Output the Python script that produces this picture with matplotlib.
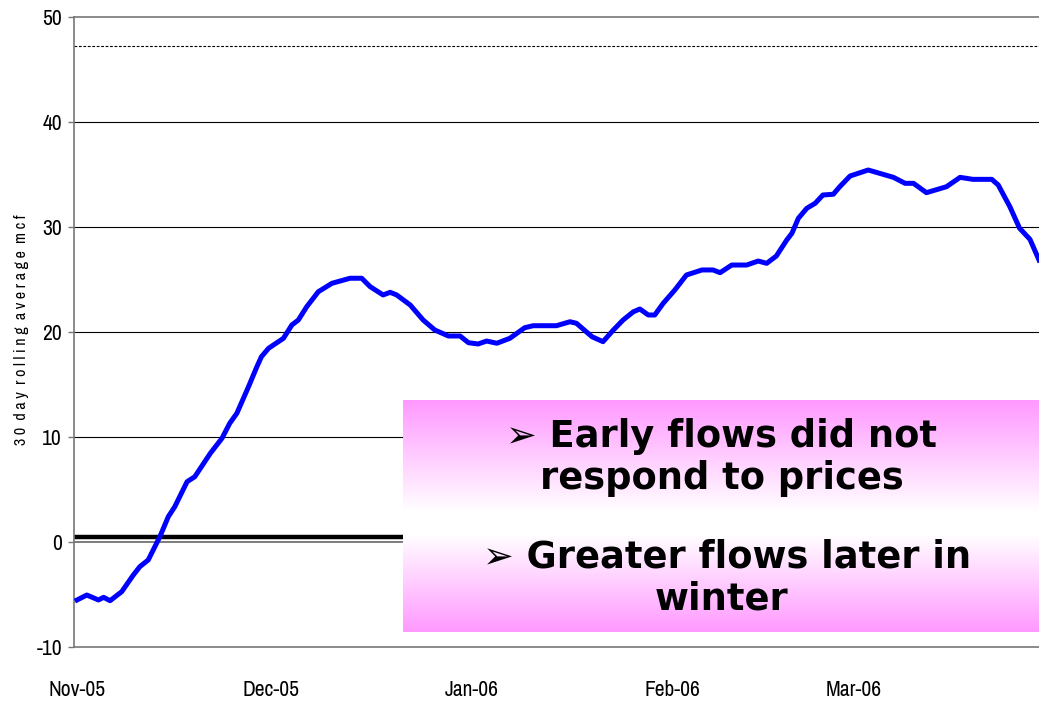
import numpy as np
import matplotlib
matplotlib.use("Agg")
import matplotlib.pyplot as plt
from matplotlib import font_manager
from matplotlib.colors import LinearSegmentedColormap

plt.rcParams["axes.unicode_minus"] = False

# days since 1 Nov 2005 and 30 day rolling average (mcf)
days = [0, 1.5, 3.3, 4.1, 5.1, 6.9, 8.7, 9.7, 11.0, 12.8, 14.1, 15.1, 17.0, 18.2,
        20.6, 22.4, 23.6, 24.7, 26.5, 27.8, 28.5, 29.6, 31.9, 33.2, 34.2, 35.5,
        37.3, 39.4, 42.2, 44.0, 45.3, 47.3, 48.4, 49.4, 51.5, 53.5, 55.3, 57.4,
        59.2, 60.5, 62.0, 63.3, 64.9, 66.9, 69.2, 70.5, 74.1, 76.2, 77.2, 79.6,
        81.3, 82.9, 84.4, 86.0, 87.0, 88.3, 89.3, 90.6, 92.4, 94.2, 96.6, 98.3,
        99.4, 101.2, 103.5, 105.3, 106.6, 108.1, 109.7, 110.5, 111.5, 112.8,
        114.1, 115.3, 116.9, 117.9, 119.5, 122.3, 126.2, 128.0, 129.3, 131.3,
        134.4, 136.5, 138.5, 141.4, 142.4, 144.2, 145.7, 147.3, 148.7]
flow = [-5.55, -5.08, -5.55, -5.30, -5.62, -4.76, -3.17, -2.38, -1.74, 0.48, 2.38,
        3.33, 5.71, 6.19, 8.42, 9.85, 11.28, 12.23, 14.76, 16.67, 17.62, 18.42,
        19.37, 20.64, 21.11, 22.38, 23.81, 24.61, 25.09, 25.09, 24.29, 23.50,
        23.75, 23.50, 22.54, 21.11, 20.16, 19.59, 19.59, 18.95, 18.83, 19.11,
        18.90, 19.37, 20.38, 20.57, 20.57, 20.95, 20.80, 19.52, 19.05, 20.16,
        21.11, 21.90, 22.16, 21.59, 21.59, 22.70, 23.97, 25.40, 25.88, 25.88,
        25.62, 26.35, 26.35, 26.73, 26.51, 27.21, 28.73, 29.37, 30.80, 31.75,
        32.23, 33.02, 33.09, 33.81, 34.83, 35.40, 34.70, 34.13, 34.13, 33.24,
        33.81, 34.70, 34.51, 34.51, 33.97, 31.90, 29.85, 28.80, 26.83]

month_days = [0, 30, 61, 92, 120]
month_labels = ["Nov-05", "Dec-05", "Jan-06", "Feb-06", "Mar-06"]
upper_level = 47.2
base_level = 0.48

# look for a narrow/condensed face for the axis text
narrow_file = None
for key in ["narrow", "condensed"]:
    for f in font_manager.fontManager.ttflist:
        if key in f.fname.lower() and "bold" not in f.fname.lower() \
                and "italic" not in f.fname.lower() and "oblique" not in f.fname.lower():
            narrow_file = f.fname
            break
    if narrow_file:
        break
if narrow_file:
    tick_font = font_manager.FontProperties(fname=narrow_file, size=15.5)
    ylab_font = font_manager.FontProperties(fname=narrow_file, size=11.5)
else:
    tick_font = font_manager.FontProperties(family="DejaVu Sans", size=13)
    ylab_font = font_manager.FontProperties(family="DejaVu Sans", size=9)

fig = plt.figure(figsize=(10.39, 7.02), dpi=100)
ax = fig.add_axes([0.0717, 0.0788, 1 - 0.0717, 0.9762 - 0.0788])

ax.set_xlim(-0.4, 148.7)
ax.set_ylim(-10, 50)

for v in [10, 20, 30, 40]:
    ax.axhline(v, color="black", lw=0.8, zorder=1)
ax.axhline(0, color="#666666", lw=1.2, zorder=1)
ax.axhline(upper_level, color="black", lw=0.8, ls=(0, (2.5, 1.5)), zorder=1)
ax.plot([-0.4, 60], [base_level, base_level], color="black", lw=3.2, zorder=2)

ax.plot(days, flow, color="#0000ff", lw=3.6, zorder=3, solid_joinstyle="round")

for s in ["top", "bottom", "left"]:
    ax.spines[s].set_color("#777777")
    ax.spines[s].set_linewidth(1.2)
ax.spines["right"].set_visible(False)

ax.set_yticks(range(-10, 51, 10))
ax.set_xticks(month_days)
ax.set_xticklabels(month_labels)
ax.tick_params(axis="y", length=4, width=1, color="#777777", pad=5)
ax.tick_params(axis="x", length=0, pad=24)
for lab in ax.get_xticklabels() + ax.get_yticklabels():
    lab.set_fontproperties(tick_font)

fig.text(0.021, 0.53, "3 0  d a y  r o l l i n g  a v e r a g e  m c f",
         rotation=90, ha="center", va="center", fontproperties=ylab_font)

# gradient text box
box = fig.add_axes([403 / 1039, 1 - 632 / 702, (1039 - 403) / 1039, (632 - 400) / 702])
cmap = LinearSegmentedColormap.from_list("pk", [(0, "#ff99ff"), (0.48, "#ffffff"),
                                                (0.58, "#ffffff"), (1, "#ff99ff")])
grad = np.linspace(0, 1, 256).reshape(-1, 1)
box.imshow(grad, aspect="auto", cmap=cmap, extent=[0, 1, 0, 1])
box.set_axis_off()

lines = [("\u27a2 Early flows did not", 722, 447), ("respond to prices", 722, 489),
         ("\u27a2 Greater flows later in", 727, 567), ("winter", 722, 609)]
for txt, px, py in lines:
    fig.text(px / 1039, 1 - py / 702, txt, ha="center", va="baseline",
             fontsize=26.5, fontweight="bold", family="DejaVu Sans")

fig.savefig("out.png", dpi=100)
